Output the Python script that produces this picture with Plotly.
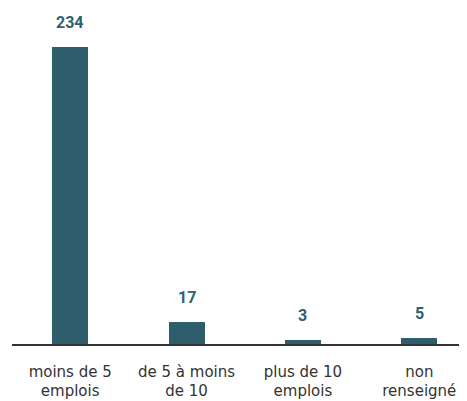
import plotly.graph_objects as go

categories = ["moins de 5<br>emplois", "de 5 à moins<br>de 10", "plus de 10<br>emplois", "non<br>renseigné"]
values = [234, 17, 3, 5]
value_labels = ["234", "17", "3", "5"]

bar_color = "#2e5e6b"

fig = go.Figure()
fig.add_trace(go.Bar(
    x=list(range(len(categories))),
    y=values,
    marker=dict(color=bar_color, line=dict(width=0)),
    width=0.31,
    hoverinfo="skip",
))

for i, (v, t) in enumerate(zip(values, value_labels)):
    fig.add_annotation(
        x=i, y=v, text="<b>" + t + "</b>", showarrow=False,
        yanchor="bottom", yshift=13,
        font=dict(family="Roboto, sans-serif", size=16, color="#2e6170"),
    )

# the page body has an 8px margin, so the figure is sized to fit the window
fig.update_layout(
    width=459, height=393,
    margin=dict(l=3.5, r=0, t=0, b=57),
    plot_bgcolor="white", paper_bgcolor="white",
    showlegend=False,
    bargap=0,
)
fig.update_xaxes(
    range=[-0.5, 3.41],
    automargin=False,
    tickmode="array", tickvals=list(range(len(categories))), ticktext=categories,
    tickfont=dict(family="DejaVu Sans, sans-serif", size=15, color="#333333"),
    showline=True, linecolor="#333333", linewidth=1.5,
    ticks="outside", ticklen=13, tickcolor="rgba(0,0,0,0)",
    showgrid=False, zeroline=False,
)
fig.update_yaxes(
    range=[0, 264.8], visible=False, showgrid=False, zeroline=False,
    automargin=False,
)

fig.write_html("out.html")
